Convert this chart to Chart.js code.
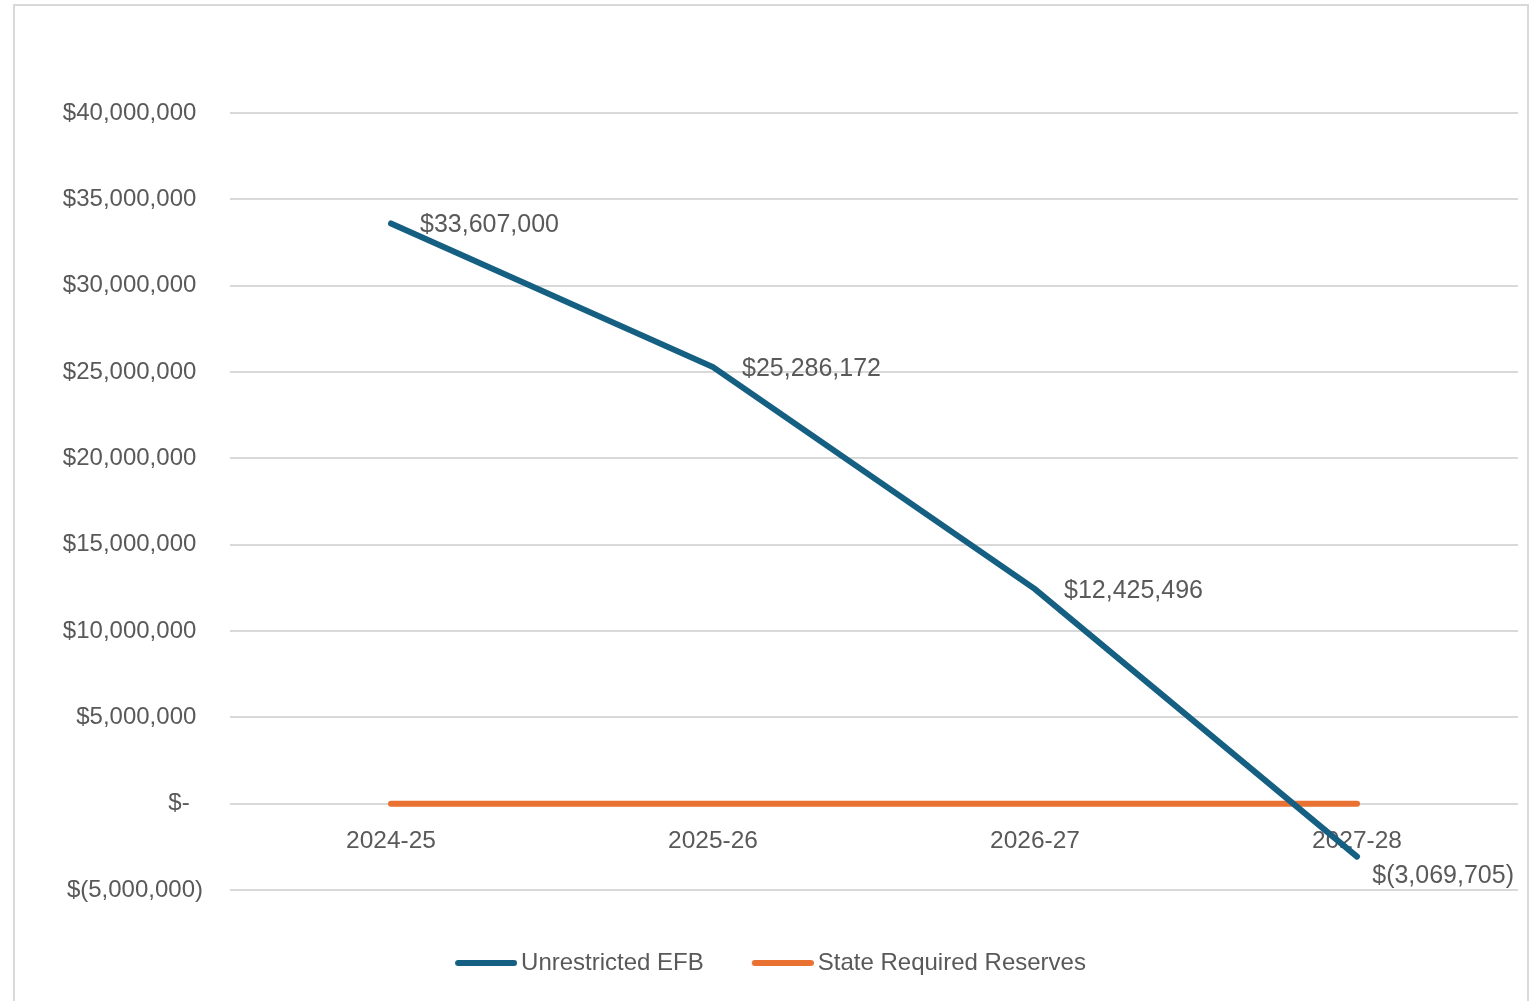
<!DOCTYPE html>
<html>
<head>
<meta charset="utf-8">
<script src="https://cdn.jsdelivr.net/npm/chart.js@4.4.1/dist/chart.umd.min.js"></script>
<style>
  html, body { margin: 0; padding: 0; background: #fff; overflow: hidden; }
  #frame {
    position: absolute; left: 13px; top: 4px;
    width: 1512px; height: 1010px;
    border: 2px solid #d9d9d9;
  }
</style>
</head>
<body>
<div id="frame"><canvas id="myChart" width="1512" height="1010"></canvas></div>
<script>
// chart data
const years = ['2024-25', '2025-26', '2026-27', '2027-28'];
const unrestrictedEFB = [33607000, 25286172, 12425496, -3069705];
const stateReserves = [0, 0, 0, 0];
const yMin = -5000000;
const yMax = 40000000;
const yStep = 5000000;

const textColor = '#595959';
const gridColor = '#d9d9d9';
const blue = '#156082';
const orange = '#e97132';
const fontFamily = '"Liberation Sans", Arial, sans-serif';

function money(v) {
    if (v === 0) return '$-  ';
    const s = Math.abs(v).toLocaleString('en-US');
    return v < 0 ? '$(' + s + ')' : '$' + s + ' ';
}

// legend swatch: a thick line sitting close to the label text
function legendMark(color) {
    const c = document.createElement('canvas');
    c.width = 78;
    c.height = 10;
    const g = c.getContext('2d');
    g.strokeStyle = color;
    g.lineWidth = 6;
    g.lineCap = 'round';
    g.beginPath();
    g.moveTo(19, 5);
    g.lineTo(75, 5);
    g.stroke();
    return c;
}

// labels to the right of the blue line's points, like Excel's "Right" position
const pointLabels = {
    id: 'pointLabels',
    afterDatasetsDraw(chart) {
        const ctx = chart.ctx;
        const meta = chart.getDatasetMeta(0);
        const area = chart.chartArea;
        ctx.save();
        ctx.font = '25px ' + fontFamily;
        ctx.fillStyle = textColor;
        ctx.textBaseline = 'middle';
        ctx.textAlign = 'left';
        meta.data.forEach(function (pt, i) {
            const txt = money(unrestrictedEFB[i]).trim();
            const w = ctx.measureText(txt).width;
            let x = pt.x + 29;
            let y = pt.y + 2;
            if (x + w > area.right) {
                x = area.right - w - 4;
                y = pt.y + 19;
            }
            ctx.fillText(txt, x, y);
        });
        ctx.restore();
    }
};

const config = {
    type: 'line',
    data: {
        labels: years,
        datasets: [{
            label: 'Unrestricted EFB',
            data: unrestrictedEFB,
            borderColor: blue,
            backgroundColor: blue,
            borderWidth: 6,
            borderCapStyle: 'round',
            pointRadius: 0,
            pointStyle: legendMark(blue),
            tension: 0
        }, {
            label: 'State Required Reserves',
            data: stateReserves,
            borderColor: orange,
            backgroundColor: orange,
            borderWidth: 6,
            borderCapStyle: 'round',
            pointRadius: 0,
            pointStyle: legendMark(orange),
            tension: 0
        }]
    },
    options: {
        responsive: false,
        animation: false,
        layout: { padding: { left: 0, right: 9, top: 107, bottom: 31 } },
        scales: {
            x: {
                position: { y: 0 },
                offset: true,
                grid: { display: false, drawTicks: false },
                border: { display: false },
                ticks: {
                    color: textColor,
                    padding: 23,
                    font: { family: fontFamily, size: 24.5 }
                }
            },
            y: {
                min: yMin,
                max: yMax,
                afterFit: function (scale) { scale.width = 215; },
                grid: { color: gridColor, lineWidth: 2, drawTicks: false },
                border: { display: false },
                ticks: {
                    stepSize: yStep,
                    color: textColor,
                    padding: 27,
                    font: { family: fontFamily, size: 24 },
                    callback: function (v) { return money(v); }
                }
            }
        },
        plugins: {
            legend: {
                position: 'bottom',
                title: { display: true, text: '', padding: { top: 9, bottom: 0 }, font: { size: 10 } },
                labels: {
                    usePointStyle: true,
                    pointStyleWidth: 62,
                    padding: 40,
                    color: textColor,
                    font: { family: fontFamily, size: 24 }
                }
            },
            tooltip: { enabled: false }
        }
    },
    plugins: [pointLabels]
};

const myChart = new Chart(document.getElementById('myChart'), config);
</script>
</body>
</html>
